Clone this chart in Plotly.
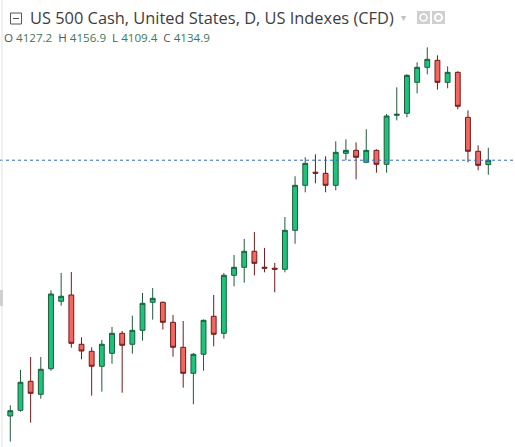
import plotly.graph_objs as go

# daily candles
days = list(range(48))
opens = [3684.7, 3694.7, 3745.8, 3722.9, 3767.9, 3886.6, 3897.7, 3810.9, 3798.6, 3772.2,
         3795.0, 3830.2, 3810.9, 3835.5, 3884.8, 3884.8, 3849.6, 3805.6, 3759.8, 3793.3,
         3860.2, 3830.2, 3932.3, 3946.4, 3974.6, 3946.6, 3944.8, 3942.9, 4011.5, 4090.7,
         4113.8, 4111.8, 4090.7, 4147.0, 4152.3, 4131.2, 4152.3, 4127.7, 4213.9, 4217.4,
         4272.0, 4298.4, 4310.7, 4272.0, 4289.6, 4210.4, 4150.6, 4127.2]
highs = [3703.5, 3765.7, 3788.5, 3788.5, 3905.9, 3936.4, 3938.1, 3823.2, 3805.6, 3818.5,
         3841.3, 3834.3, 3861.2, 3901.2, 3910.0, 3886.2, 3862.5, 3851.9, 3795.6, 3854.5,
         3897.7, 3936.4, 3968.1, 3996.2, 4008.5, 3980.4, 3954.0, 4034.9, 4106.6, 4140.0,
         4145.3, 4141.8, 4168.2, 4171.7, 4166.4, 4189.3, 4154.1, 4216.2, 4263.2, 4286.1,
         4307.2, 4333.6, 4319.5, 4300.2, 4291.4, 4222.7, 4161.1, 4156.9]
lows = [3639.5, 3692.3, 3672.9, 3715.1, 3764.4, 3878.8, 3804.9, 3784.5, 3720.4, 3727.5,
        3776.7, 3725.7, 3794.3, 3817.2, 3854.2, 3836.9, 3789.1, 3734.5, 3705.3, 3764.4,
        3807.4, 3820.7, 3913.0, 3919.3, 3932.3, 3937.6, 3902.4, 3937.6, 3987.9, 4078.4,
        4094.2, 4078.4, 4081.9, 4134.7, 4101.3, 4131.0, 4112.9, 4112.9, 4205.1, 4210.4,
        4252.6, 4286.1, 4259.0, 4261.4, 4224.5, 4131.2, 4117.1, 4109.4]
closes = [3694.0, 3744.0, 3724.6, 3766.9, 3899.4, 3895.4, 3812.6, 3799.1, 3772.2, 3810.9,
          3830.2, 3809.1, 3835.5, 3883.0, 3891.8, 3849.6, 3805.6, 3759.8, 3793.3, 3853.1,
          3828.5, 3932.3, 3946.4, 3974.6, 3953.4, 3944.8, 3943.1, 4011.5, 4090.7, 4129.4,
          4112.0, 4090.7, 4148.8, 4152.3, 4140.0, 4152.3, 4127.7, 4212.7, 4215.7, 4284.3,
          4298.4, 4312.5, 4272.0, 4289.6, 4229.8, 4150.6, 4125.9, 4134.9]

title_text = "US 500 Cash, United States, D, US Indexes (CFD)"
last = dict(O=opens[-1], H=highs[-1], L=lows[-1], C=closes[-1])

W, H = 515, 447

def px(x):
    return x / W

def py(y):
    return 1 - y / H

fig = go.Figure()
fig.add_trace(go.Candlestick(
    x=days, open=opens, high=highs, low=lows, close=closes,
    increasing=dict(fillcolor="#1cc47b", line=dict(color="#1f5a3b", width=1)),
    decreasing=dict(fillcolor="#f3675e", line=dict(color="#6e1c1c", width=1)),
    whiskerwidth=0,
    showlegend=False,
    hoverinfo="skip",
))

# last price line
fig.add_shape(type="line", xref="paper", x0=0, x1=1, yref="y", y0=last["C"], y1=last["C"],
              line=dict(color="#3c68c0", width=1, dash="dot"))

# left border + little handle
fig.add_shape(type="line", xref="paper", yref="paper", x0=px(2), x1=px(2), y0=0, y1=1,
              line=dict(color="#e3e3e3", width=1))
fig.add_shape(type="rect", xref="paper", yref="paper", x0=0, x1=px(3), y0=py(306), y1=py(290),
              line=dict(width=0), fillcolor="#cfcfcf")

# collapse icon
fig.add_shape(type="rect", xref="paper", yref="paper", x0=px(10.5), x1=px(21.5), y0=py(24), y1=py(13),
              line=dict(color="#555555", width=1))
fig.add_shape(type="line", xref="paper", yref="paper", x0=px(13), x1=px(19), y0=py(18.5), y1=py(18.5),
              line=dict(color="#555555", width=1))

# grey buttons at the end of the title
for x0 in (417, 432):
    fig.add_shape(type="rect", xref="paper", yref="paper", x0=px(x0), x1=px(x0 + 13), y0=py(24), y1=py(11),
                  line=dict(width=0), fillcolor="#d0d0d0")
fig.add_shape(type="circle", xref="paper", yref="paper", x0=px(420), x1=px(427), y0=py(21), y1=py(14),
              line=dict(color="white", width=1.5))
fig.add_shape(type="circle", xref="paper", yref="paper", x0=px(435), x1=px(442), y0=py(21), y1=py(14),
              line=dict(color="white", width=2), fillcolor="#d0d0d0")

fig.add_annotation(xref="paper", yref="paper", x=px(28), y=py(18), xanchor="left", yanchor="middle",
                   text=title_text, showarrow=False,
                   font=dict(family="Open Sans", size=16.4, color="#3e3e3e"))
fig.add_annotation(xref="paper", yref="paper", x=px(403), y=py(17), xanchor="center", yanchor="middle",
                   text="▾", showarrow=False, font=dict(family="DejaVu Sans", size=10, color="#c0c0c0"))

val = "<span style='color:#3d7a58'>{:.1f}</span>"
ohlc = "  ".join(k + " " + val.format(v) for k, v in last.items())
fig.add_annotation(xref="paper", yref="paper", x=px(2), y=py(37.5), xanchor="left", yanchor="middle",
                   text=ohlc, showarrow=False,
                   font=dict(family="Open Sans", size=11.6, color="#555555"))

fig.update_layout(
    width=W, height=H,
    margin=dict(l=0, r=0, t=0, b=0),
    paper_bgcolor="white", plot_bgcolor="white",
    boxgap=0.32,
    hovermode=False,
)
fig.update_xaxes(visible=False, range=[-1.013, 49.625], rangeslider_visible=False)
fig.update_yaxes(visible=False, range=[3630.1, 4416.9])

# page body has a default 8px margin, drop it so the chart sits at 0,0
fig.write_html("out.html", config=dict(displayModeBar=False),
               post_script="document.body.style.margin='0';")
